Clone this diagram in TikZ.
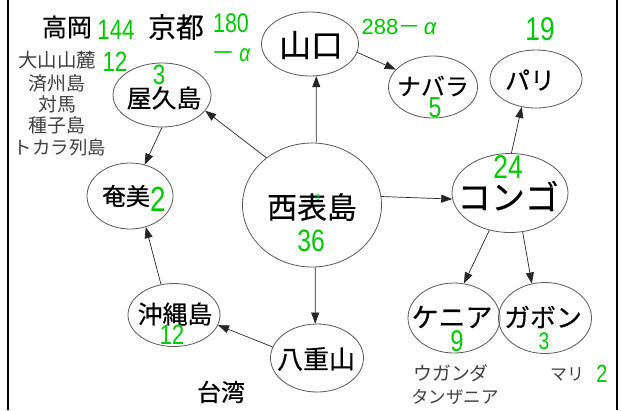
\documentclass[tikz,border=0pt]{standalone}
\usepackage{fontspec}
\newfontfamily\jp{Noto Sans CJK JP}
\newfontfamily\jpb[FakeBold=0.35]{Noto Sans CJK JP}
\newfontfamily\numf[FakeStretch=0.8]{Liberation Sans}
\newfontfamily\numw{Liberation Sans}
\usetikzlibrary{shapes.geometric,arrows.meta}
\definecolor{grn}{RGB}{0,200,0}
\newcommand{\fsz}[1]{\fontsize{#1}{#1}\selectfont}
\begin{document}
\begin{tikzpicture}[x=1bp,y=-1bp,
  ell/.style={draw=black!65, ellipse, inner sep=0pt, line width=0.8bp},
  arr/.style={-{Triangle[length=11bp,width=8bp]}, line width=0.7bp, draw=black!85},
  lbl/.style={inner sep=0pt, font=\jpb},
  gn/.style={inner sep=0pt, text=grn, font=\numf},
  gr/.style={inner sep=0pt, text=black!75, font=\jp}]
\useasboundingbox[fill=white] (0,0) rectangle (621,410);
\draw[line width=2bp] (8,0) -- (8,410);
\draw[line width=2bp] (617,0) -- (617,410);
% ellipses
\node[ell, minimum width=98bp, minimum height=64bp] (yakushima) at (162,95) {};
\node[ell, minimum width=86bp, minimum height=66bp] (amami) at (130,196) {};
\node[ell, minimum width=92bp, minimum height=63bp] (okinawa) at (174,315) {};
\node[ell, minimum width=93bp, minimum height=68bp] (yaeyama) at (317,358) {};
\node[ell, minimum width=139bp, minimum height=124bp] (iriomote) at (312,205) {};
\node[ell, minimum width=97bp, minimum height=64bp] (yamaguchi) at (310,44) {};
\node[ell, minimum width=89bp, minimum height=62bp] (navarra) at (433,87) {};
\node[ell, minimum width=92bp, minimum height=58bp] (paris) at (536,79) {};
\node[ell, minimum width=116bp, minimum height=79bp] (congo) at (510,193) {};
\node[ell, minimum width=92bp, minimum height=70bp] (kenya) at (454,318) {};
\node[ell, minimum width=93bp, minimum height=71bp] (gabon) at (545,318) {};
% labels in ellipses
\node[lbl] (tyakushima) at (164,98) {\fsz{25}屋久島};
\node[lbl] (tamami) at (126,196) {\fsz{24}奄美};
\node[lbl] (tokinawa) at (175,314) {\fsz{25}沖縄島};
\node[lbl] (tyaeyama) at (316,359) {\fsz{26}八重山};
\node[lbl] (tiriomote) at (312,207) {\fsz{30}西表島};
\node[lbl] (tyamaguchi) at (311,45) {\fsz{32}山口};
\node[lbl] (tnavarra) at (433,86) {\fsz{24}ナバラ};
\node[lbl] (tparis) at (530,80) {\fsz{25}パリ};
\node[lbl] (tcongo) at (508,196) {\fsz{34}コンゴ};
\node[lbl] (tkenya) at (452,317) {\fsz{27}ケニア};
\node[lbl] (tgabon) at (543,317) {\fsz{26}ガボン};
% green numbers
\node[gn] (nyakushima) at (159,75) {\fsz{28}3};
\node[gn] (namami) at (158,199) {\fsz{35}2};
\node[gn] (nokinawa) at (172,335) {\fsz{28}12};
\node[gn] (niriomote) at (311,241) {\fsz{31}36};
\node[gn] (nsmall) at (318,197) {\fsz{9}5};
\node[gn] (nnavarra) at (435,108) {\fsz{29}5};
\node[gn] (nparis) at (540,29) {\fsz{33}19};
\node[gn] (ncongo) at (508,167) {\fsz{33}24};
\node[gn] (nkenya) at (457,341) {\fsz{30}9};
\node[gn] (ngabon) at (544,341) {\fsz{24}3};
\node[gn, font=\numw] (nyamaguchi) at (399,27) {\fsz{22}288{\jp －}\,{\itshape α}};
% top-left texts
\node[lbl] (takaoka) at (67,27) {\fsz{25}高岡};
\node[gn] (ntakaoka) at (116,30) {\fsz{28}144};
\node[lbl] (kyoto) at (176,27) {\fsz{28}京都};
\node[gn] (nkyoto) at (231,23) {\fsz{27}180};
\node[gn] (nkyoto2) at (231,55) {\fsz{24}{\jp －}\,{\itshape α}};
\node[gr] (daisen) at (57,60) {\fsz{19.5}大山山麓};
\node[gn] (ndaisen) at (115,62) {\fsz{28}12};
\node[gr] (jeju) at (57,83) {\fsz{19}済州島};
\node[gr] (tsushima) at (57,104) {\fsz{19}対馬};
\node[gr] (tanegashima) at (57,125) {\fsz{19}種子島};
\node[gr] (tokara) at (60,147) {\fsz{18.5}トカラ列島};
% bottom texts
\node[lbl] (taiwan) at (221,392) {\fsz{24}台湾};
\node[gr] (uganda) at (451,373) {\fsz{19}ウガンダ};
\node[gr] (tanzania) at (455,397) {\fsz{17.5}タンザニア};
\node[gr] (mali) at (567,374) {\fsz{17}マリ};
\node[gn] (nmali) at (602,374) {\fsz{25}2};
% arrows
\draw[arr] (iriomote.134) -- (yakushima.-20);
\draw[arr] (yakushima.-90) -- (amami.65);
\draw[arr] (okinawa.113) -- (amami.-63);
\draw[arr] (yaeyama.166) -- (okinawa.-13);
\draw[arr] (iriomote.-87) -- (yaeyama.93);
\draw[arr] (iriomote.86) -- (yamaguchi.-79);
\draw[arr] (yamaguchi.-10) -- (navarra.155);
\draw[arr] (iriomote.7) -- (congo.186);
\draw[arr] (congo.88) -- (paris.-117);
\draw[arr] (congo.-119) -- (kenya.74);
\draw[arr] (congo.-72) -- (gabon.111);
\end{tikzpicture}
\end{document}
